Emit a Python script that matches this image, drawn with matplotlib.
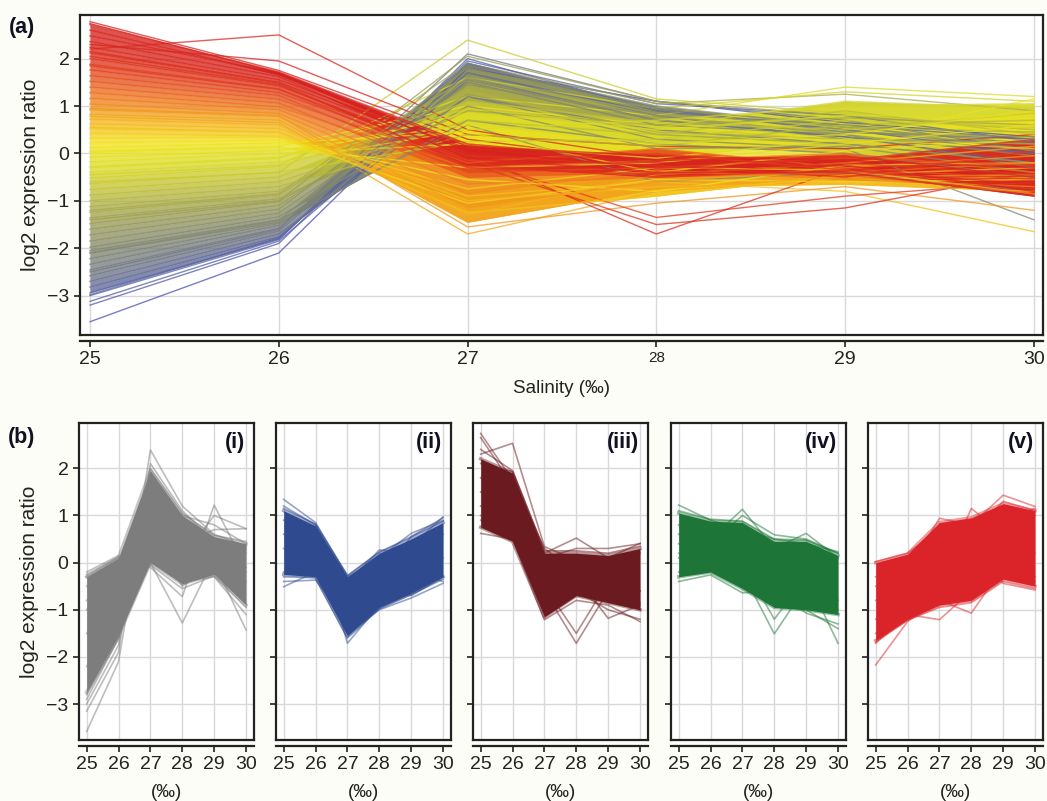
import numpy as np
import matplotlib.pyplot as plt
from matplotlib.colors import LinearSegmentedColormap, Normalize

plt.rcParams['font.family'] = ['Liberation Sans', 'DejaVu Sans']

salinity = [25, 26, 27, 28, 29, 30]
y_ticks = [-3, -2, -1, 0, 1, 2]

# panel (a): dense core profiles, ordered from highest to lowest value at 25
a_profiles = [
    [2.72, 1.72, 0.20, -0.15, -0.05, -0.50],
    [2.60, 1.66, 0.05, -0.30, -0.25, -0.80],
    [2.48, 1.70, 0.15, -0.05, -0.15, -0.30],
    [2.36, 1.62, -0.10, -0.40, -0.40, -0.90],
    [2.24, 1.55, 0.10, -0.20, -0.15, 0.30],
    [2.12, 1.48, -0.25, -0.50, -0.35, -0.65],
    [2.00, 1.42, -0.05, -0.25, -0.50, 0.05],
    [1.88, 1.36, -0.30, -0.45, -0.20, -0.45],
    [1.76, 1.28, -0.15, 0.00, -0.35, -0.75],
    [1.64, 1.22, -0.40, -0.30, -0.10, -0.25],
    [1.52, 1.14, -0.20, 0.10, -0.30, -0.55],
    [1.40, 1.06, -0.50, -0.40, -0.45, -0.85],
    [1.28, 0.98, -0.30, -0.15, 0.00, -0.40],
    [1.16, 0.92, -0.65, -0.50, -0.40, -0.20],
    [1.04, 0.84, -0.85, -0.35, -0.55, -0.70],
    [0.92, 0.78, -1.15, -0.60, -0.30, -0.05],
    [0.82, 0.70, -1.45, -0.75, -0.50, -0.45],
    [0.72, 0.60, -1.30, -0.45, -0.20, 0.15],
    [0.62, 0.52, -1.00, -0.70, -0.65, -0.80],
    [0.52, 0.44, -1.25, -0.90, -0.45, -0.30],
    [0.42, 0.36, -0.75, -0.30, -0.35, -0.85],
    [0.32, 0.34, -1.05, -0.55, -0.60, -0.55],
    [0.22, 0.28, -0.55, -0.80, -0.25, -0.20],
    [0.12, 0.22, 0.45, -0.40, 0.05, 0.30],
    [0.02, 0.12, -0.30, -0.20, 0.20, 0.60],
    [-0.08, 0.06, 0.60, 0.20, 0.40, 0.90],
    [-0.18, 0.00, 0.20, -0.10, 0.30, 0.10],
    [-0.28, -0.08, 0.85, 0.50, 0.80, 0.80],
    [-0.40, -0.18, 0.50, 0.70, 1.00, 1.05],
    [-0.52, -0.28, 0.95, 0.55, 1.10, 0.95],
    [-0.64, -0.40, 0.25, 0.30, 0.70, 0.55],
    [-0.76, -0.50, 1.10, 0.65, 0.50, 0.85],
    [-0.88, -0.60, 0.70, 0.40, 0.90, 0.40],
    [-1.00, -0.70, 0.40, 0.15, 0.60, 0.70],
    [-1.12, -0.80, 1.35, 0.45, 0.30, 0.20],
    [-1.24, -0.88, 1.60, 0.85, 0.55, 0.45],
    [-1.36, -0.96, 0.90, 0.60, 0.75, 0.60],
    [-1.48, -1.02, 1.25, 0.40, 0.20, -0.20],
    [-1.60, -1.10, 1.55, 0.70, 0.45, 0.35],
    [-1.72, -1.18, 1.80, 0.95, 0.60, 0.05],
    [-1.85, -1.26, 1.45, 0.80, 0.40, -0.05],
    [-1.98, -1.34, 1.00, 0.10, 0.15, -0.40],
    [-2.10, -1.42, 1.85, 1.00, 0.55, 0.20],
    [-2.22, -1.48, 0.70, 0.20, 0.00, -0.50],
    [-2.34, -1.52, 1.50, 0.60, 0.40, -0.30],
    [-2.46, -1.58, 1.90, 0.90, 0.50, 0.10],
    [-2.58, -1.64, 1.70, 0.80, 0.30, 0.25],
    [-2.70, -1.70, 1.20, 0.50, 0.20, -0.20],
    [-2.82, -1.76, 1.60, 0.70, 0.35, 0.00],
    [-2.94, -1.80, 1.90, 0.95, 0.45, 0.30],
]
# sparse profiles at the edges of the fan
a_outliers = [
    [2.78, 1.75, 0.30, -0.20, -0.10, -0.60],
    [2.74, 1.70, 0.10, -0.40, -0.30, -0.85],
    [2.30, 1.95, 0.40, 0.15, 0.10, 0.40],
    [2.20, 2.50, 0.50, -0.10, -0.30, -0.20],
    [2.15, 1.50, 0.00, -1.70, -0.30, -0.70],
    [2.05, 1.45, -0.20, -1.50, -1.15, -0.40],
    [1.85, 1.35, -0.10, -1.35, -0.90, -0.60],
    [0.95, 0.80, -1.55, -1.05, -0.70, -1.20],
    [0.78, 0.65, -1.70, -0.80, -0.55, -0.50],
    [0.55, 0.45, -0.90, -0.60, -0.80, -1.65],
    [0.05, 0.15, 1.00, 0.60, 0.30, 1.15],
    [-0.30, -0.10, 1.20, 0.80, 1.40, 1.20],
    [-0.45, -0.25, 1.60, 0.95, 1.30, 1.10],
    [-0.60, -0.40, 2.39, 1.15, 0.85, 0.50],
    [-1.20, -0.85, 1.90, 1.05, 1.25, 0.90],
    [-1.40, -1.00, 2.05, 1.10, 0.80, 0.50],
    [-2.05, -1.40, 0.60, -0.60, -0.40, -0.80],
    [-2.10, -1.45, 1.20, 0.30, 0.10, -1.40],
    [-2.50, -1.60, 2.10, 1.10, 0.70, 0.05],
    [-2.98, -1.78, 1.70, 0.85, 0.60, 0.30],
    [-3.00, -1.82, 1.95, 1.05, 0.80, 0.25],
    [-3.12, -1.85, 1.55, 0.70, 0.35, -0.20],
    [-3.20, -1.90, 2.00, 0.90, 0.50, 0.00],
    [-3.55, -2.10, 1.80, 1.10, 0.65, 0.35],
]

# panel (b): cluster bands (core upper / lower) and single profiles
c1_upper = [-0.30, 0.10, 1.95, 1.00, 0.55, 0.40]
c1_lower = [-2.75, -1.55, 0.00, -0.45, -0.25, -0.90]
c1_lines = [
    [-3.58, -2.10, 1.85, 0.90, 0.50, 0.30],
    [-3.15, -1.90, 2.39, 1.20, 0.60, 0.35],
    [-3.00, -1.75, 2.10, 1.10, 0.45, 0.20],
    [-2.90, -1.60, 1.90, 0.70, 0.30, -0.20],
    [-0.20, 0.15, 0.00, -1.28, 0.10, -0.40],
    [-0.50, 0.00, -0.10, -0.72, 1.22, -0.10],
    [-0.80, -0.10, 0.30, 0.10, 1.00, 0.72],
    [-1.00, -0.30, 0.60, -0.50, 0.00, -1.43],
    [-1.50, -0.60, 1.50, 0.40, 0.70, 0.72],
    [-0.30, 0.10, 0.05, -0.40, -0.30, -1.10],
    [-2.20, -1.40, 1.60, 1.00, 0.80, 0.40],
    [-0.25, 0.12, -0.05, -0.55, -0.28, -0.95],
    [-2.80, -1.62, 2.00, 1.05, 0.58, 0.45],
]

c2_upper = [1.10, 0.78, -0.30, 0.20, 0.50, 0.85]
c2_lower = [-0.25, -0.30, -1.55, -0.95, -0.65, -0.30]
c2_lines = [
    [1.34, 0.85, -0.30, 0.05, 0.35, 0.97],
    [1.20, 0.80, -0.45, 0.27, 0.20, 0.60],
    [0.90, 0.70, -1.71, -0.90, -0.40, 0.10],
    [-0.51, -0.20, -1.50, -1.00, -0.75, -0.44],
    [-0.40, -0.37, -1.20, -0.60, -0.70, -0.30],
    [0.30, 0.10, -1.00, 0.10, 0.62, 0.90],
    [0.60, 0.40, -0.80, -0.30, 0.55, 0.95],
    [-0.20, -0.10, -1.30, -0.80, -0.20, -0.40],
    [1.15, 0.82, -0.28, 0.22, 0.55, 0.88],
    [-0.30, -0.32, -1.60, -0.98, -0.68, -0.35],
]

c3_upper = [2.20, 1.90, 0.20, 0.20, 0.15, 0.30]
c3_lower = [0.75, 0.45, -1.15, -0.70, -0.85, -1.00]
c3_lines = [
    [2.74, 1.75, 0.30, -0.20, -0.10, -0.60],
    [2.65, 1.65, 0.10, -0.40, -0.30, -0.85],
    [2.30, 2.53, 0.34, 0.05, 0.00, 0.20],
    [2.10, 1.93, 0.20, 0.52, 0.10, 0.41],
    [0.62, 0.50, -1.21, -0.80, -0.90, -1.25],
    [1.00, 0.60, -0.60, -1.71, -0.60, -1.00],
    [1.20, 0.80, -0.50, -1.50, -0.40, -0.60],
    [1.50, 1.00, -0.40, -0.30, -1.18, -0.90],
    [0.90, 0.55, -0.90, -0.60, -1.00, -1.20],
    [1.80, 1.20, 0.10, 0.30, 0.30, 0.40],
    [2.40, 1.95, 0.25, 0.25, 0.20, 0.35],
]

c4_upper = [1.05, 0.88, 0.85, 0.45, 0.45, 0.15]
c4_lower = [-0.30, -0.20, -0.55, -0.95, -1.00, -1.10]
c4_lines = [
    [1.22, 0.90, 0.70, 0.50, 0.40, 0.23],
    [0.80, 0.50, 1.13, 0.30, 0.62, 0.10],
    [0.60, 0.40, 1.00, 0.59, 0.50, 0.20],
    [-0.40, -0.26, -0.64, -0.60, -1.07, -1.30],
    [0.20, 0.00, -0.20, -1.51, -0.50, -1.00],
    [0.40, 0.20, 0.00, -1.20, -0.30, -1.71],
    [0.10, -0.10, -0.40, -0.90, -1.00, -1.40],
    [-0.20, -0.10, 0.10, -0.30, 0.40, -0.80],
    [1.10, 0.92, 0.88, 0.50, 0.48, 0.20],
]

c5_upper = [0.00, 0.18, 0.85, 0.95, 1.25, 1.10]
c5_lower = [-1.65, -1.20, -0.90, -0.80, -0.35, -0.50]
c5_lines = [
    [-2.17, -1.25, -0.70, -0.50, -0.20, -0.30],
    [-1.71, -1.10, -1.21, -0.60, 0.00, 0.20],
    [-1.50, -0.90, -0.80, -1.07, -0.10, -0.40],
    [-1.20, -0.70, -0.40, 1.15, 0.60, 1.00],
    [-0.50, -0.20, 0.94, 0.80, 1.43, 1.19],
    [-0.80, -0.50, 0.50, 0.60, 1.30, 1.10],
    [0.02, 0.20, 0.70, 0.40, -0.44, -0.58],
    [-0.30, 0.00, 0.30, 0.90, 0.90, 1.15],
    [-1.68, -1.22, -0.95, -0.85, -0.40, -0.55],
]

cluster_names = ['(i)', '(ii)', '(iii)', '(iv)', '(v)']
cluster_colors = ['#7d7d7d', '#2f4a8e', '#6b1b1f', '#1d7637', '#da2429']

bg = '#fdfdf7'
grid_c = '#d9d9d9'
ink = '#222222'


def style_axes(ax, xlim, ylim):
    ax.set_xlim(*xlim)
    ax.set_ylim(*ylim)
    ax.set_xticks(salinity)
    ax.set_yticks(y_ticks)
    ax.grid(True, color=grid_c, lw=1.0)
    ax.set_axisbelow(True)
    for s in ax.spines.values():
        s.set_linewidth(1.6)
        s.set_color(ink)
    # double bottom line like the original frame
    ax.spines['bottom'].set_position(('outward', 4))
    ax.plot([0, 1], [0, 0], transform=ax.transAxes, color=ink, lw=1.6,
            clip_on=False, zorder=5)
    ax.tick_params(direction='out', length=4, width=1.2, color=ink,
                   labelcolor=ink, labelsize=14)


fig = plt.figure(figsize=(10.47, 8.01), dpi=100)
fig.patch.set_facecolor(bg)

# ---- panel (a)
vmin, vmax = -3.6, 2.8
stops = [(-3.6, '#4a50b0'), (-3.0, '#5a64a4'), (-2.6, '#727888'),
         (-2.0, '#858a6c'), (-1.4, '#9ea050'), (-0.8, '#c0c038'),
         (-0.3, '#dcdc28'), (0.2, '#f2e41c'), (0.7, '#f4b41c'),
         (1.2, '#ee7a1c'), (1.8, '#e2401e'), (2.3, '#d8261e'),
         (2.8, '#d6221e')]
cmap = LinearSegmentedColormap.from_list(
    'sal', [((v - vmin) / (vmax - vmin), c) for v, c in stops])
norm = Normalize(vmin, vmax)

ax = fig.add_axes([80 / 1047, 1 - 335 / 801, 963 / 1047, 320 / 801])
style_axes(ax, (24.947, 30.048), (-3.83, 2.92))

# fills between neighbouring profiles make the dense fan (red on top)
n = len(a_profiles)
for k in range(n - 2, -1, -1):
    mid = (a_profiles[k][0] + a_profiles[k + 1][0]) / 2
    ax.fill_between(salinity, a_profiles[k], a_profiles[k + 1],
                    color=cmap(norm(mid)), alpha=0.78, lw=0)
for p in a_outliers[::-1]:
    ax.plot(salinity, p, color=cmap(norm(p[0])), lw=1.0, alpha=0.75)
for p in a_profiles[::-1]:
    ax.plot(salinity, p, color=cmap(norm(p[0])), lw=1.1, alpha=0.7)

for lab in ax.get_xticklabels():
    if lab.get_text() == '28':
        lab.set_fontsize(11)
ax.set_xlabel('Salinity (‰)', fontsize=13.5, color=ink, labelpad=9)
ax.set_ylabel('log2 expression ratio', fontsize=15, color=ink, labelpad=5)
fig.text(22 / 1047, 1 - 27 / 801, '(a)', fontsize=15.5, fontweight='bold',
         ha='center', va='center', color='#111122')

# ---- panel (b)
uppers = [c1_upper, c2_upper, c3_upper, c4_upper, c5_upper]
lowers = [c1_lower, c2_lower, c3_lower, c4_lower, c5_lower]
lines = [c1_lines, c2_lines, c3_lines, c4_lines, c5_lines]
lefts = [79, 276, 473, 671, 868]

for i in range(5):
    bx = fig.add_axes([lefts[i] / 1047, 1 - 740 / 801, 175 / 1047, 317 / 801])
    style_axes(bx, (24.76, 30.25), (-3.76, 2.96))
    col = cluster_colors[i]
    bx.fill_between(salinity, lowers[i], uppers[i], color=col, lw=0,
                    alpha=1.0, zorder=2)
    # soft edge around the solid band
    bx.plot(salinity, uppers[i], color=col, lw=2.5, alpha=0.45, zorder=3)
    bx.plot(salinity, lowers[i], color=col, lw=2.5, alpha=0.45, zorder=3)
    for p in lines[i]:
        bx.plot(salinity, p, color=col, lw=1.2, alpha=0.5, zorder=3)
    bx.text(0.95, 0.94, cluster_names[i], transform=bx.transAxes,
            ha='right', va='center', fontsize=15.5, fontweight='bold',
            color='#111122')
    bx.set_xlabel('(‰)', fontsize=13.5, color=ink, labelpad=8)
    if i == 0:
        bx.set_ylabel('log2 expression ratio', fontsize=15, color=ink,
                      labelpad=5)
    else:
        bx.set_yticklabels([])

fig.text(22 / 1047, 1 - 437 / 801, '(b)', fontsize=15.5, fontweight='bold',
         ha='center', va='center', color='#111122')

fig.savefig('out.png', dpi=100, facecolor=bg)
